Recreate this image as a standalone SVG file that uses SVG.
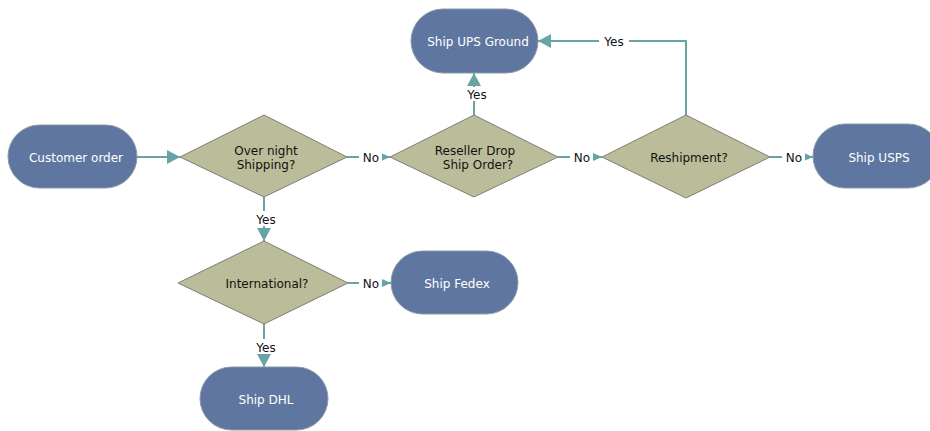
<svg xmlns="http://www.w3.org/2000/svg" width="930" height="431" viewBox="0 0 930 431">
<style>
.term{fill:#5F77A0;stroke:#8C9AA6;stroke-width:1}
.dec{fill:#BBBD9A;stroke:#7D7E72;stroke-width:1}
.tw{font-family:"DejaVu Sans",Verdana,sans-serif;font-size:12px;fill:#FFFFFF;text-anchor:middle}
.tb{font-family:"DejaVu Sans",Verdana,sans-serif;font-size:12px;fill:#111111;text-anchor:middle}
.ln{fill:none;stroke:#68A4A4;stroke-width:2}
.lb{fill:#FFFFFF}
</style>
<defs>
<marker id="ab" markerUnits="userSpaceOnUse" markerWidth="14" markerHeight="14" viewBox="0 0 14 14" refX="13" refY="7" orient="auto">
<path d="M0,0 L13,7 L0,14 Z" fill="#68A4A4"/>
</marker>
<marker id="as" markerUnits="userSpaceOnUse" markerWidth="10" markerHeight="10" viewBox="0 0 10 10" refX="9" refY="5" orient="auto">
<path d="M0,1 L9,5 L0,9 Z" fill="#68A4A4"/>
</marker>
</defs>
<g id="connectors">
<path class="ln" d="M137,157 L180,157" marker-end="url(#ab)"/>
<path class="ln" d="M347,157 L390,157" marker-end="url(#as)"/>
<rect class="lb" x="359" y="149" width="23" height="16"/>
<text class="tb" x="371" y="161.5">No</text>
<path class="ln" d="M558,157 L602,157" marker-end="url(#as)"/>
<rect class="lb" x="570" y="149" width="23" height="16"/>
<text class="tb" x="582" y="161.5">No</text>
<path class="ln" d="M770,157 L813,157" marker-end="url(#as)"/>
<rect class="lb" x="782" y="149" width="23" height="16"/>
<text class="tb" x="794" y="161.5">No</text>
<path class="ln" d="M474,115 L474,73" marker-end="url(#ab)"/>
<rect class="lb" x="463" y="87" width="28" height="14"/>
<text class="tb" x="477" y="98.5">Yes</text>
<path class="ln" d="M686,115 L686,41 L538,41" marker-end="url(#ab)"/>
<rect class="lb" x="599" y="34" width="30" height="15"/>
<text class="tb" x="614" y="45.5">Yes</text>
<path class="ln" d="M264,197 L264,241" marker-end="url(#ab)"/>
<rect class="lb" x="252" y="211" width="28" height="15"/>
<text class="tb" x="266" y="223.5">Yes</text>
<path class="ln" d="M348,283 L391,283" marker-end="url(#as)"/>
<rect class="lb" x="359" y="275" width="23" height="16"/>
<text class="tb" x="371" y="287.5">No</text>
<path class="ln" d="M264,324 L264,367" marker-end="url(#ab)"/>
<rect class="lb" x="252" y="339" width="28" height="15"/>
<text class="tb" x="266" y="351.5">Yes</text>
</g>
<g id="customer-order">
<rect class="term" x="8" y="125" width="129" height="63" rx="31.5"/>
<text class="tw" x="76" y="161.5">Customer order</text>
</g>
<g id="overnight">
<polygon class="dec" points="264,115 347,157 264,197 180,157"/>
<text class="tb" x="266" y="155">Over night</text>
<text class="tb" x="266" y="169">Shipping?</text>
</g>
<g id="reseller">
<polygon class="dec" points="474,115 558,157 474,197 390,157"/>
<text class="tb" x="475" y="155">Reseller Drop</text>
<text class="tb" x="478" y="169">Ship Order?</text>
</g>
<g id="reshipment">
<polygon class="dec" points="686,115 770,157 686,198 602,157"/>
<text class="tb" x="689" y="161.5">Reshipment?</text>
</g>
<g id="ups-ground">
<rect class="term" x="411" y="9" width="127" height="64" rx="32"/>
<text class="tw" x="478" y="45.5">Ship UPS Ground</text>
</g>
<g id="usps">
<rect class="term" x="813" y="124" width="127" height="64" rx="32"/>
<text class="tw" x="879" y="161.5">Ship USPS</text>
</g>
<g id="international">
<polygon class="dec" points="264,241 348,283 264,324 178,283"/>
<text class="tb" x="267" y="287.5">International?</text>
</g>
<g id="fedex">
<rect class="term" x="391" y="251" width="127" height="63" rx="31.5"/>
<text class="tw" x="457" y="287.5">Ship Fedex</text>
</g>
<g id="dhl">
<rect class="term" x="200" y="367" width="128" height="63" rx="31.5"/>
<text class="tw" x="266" y="403.5">Ship DHL</text>
</g>
</svg>
